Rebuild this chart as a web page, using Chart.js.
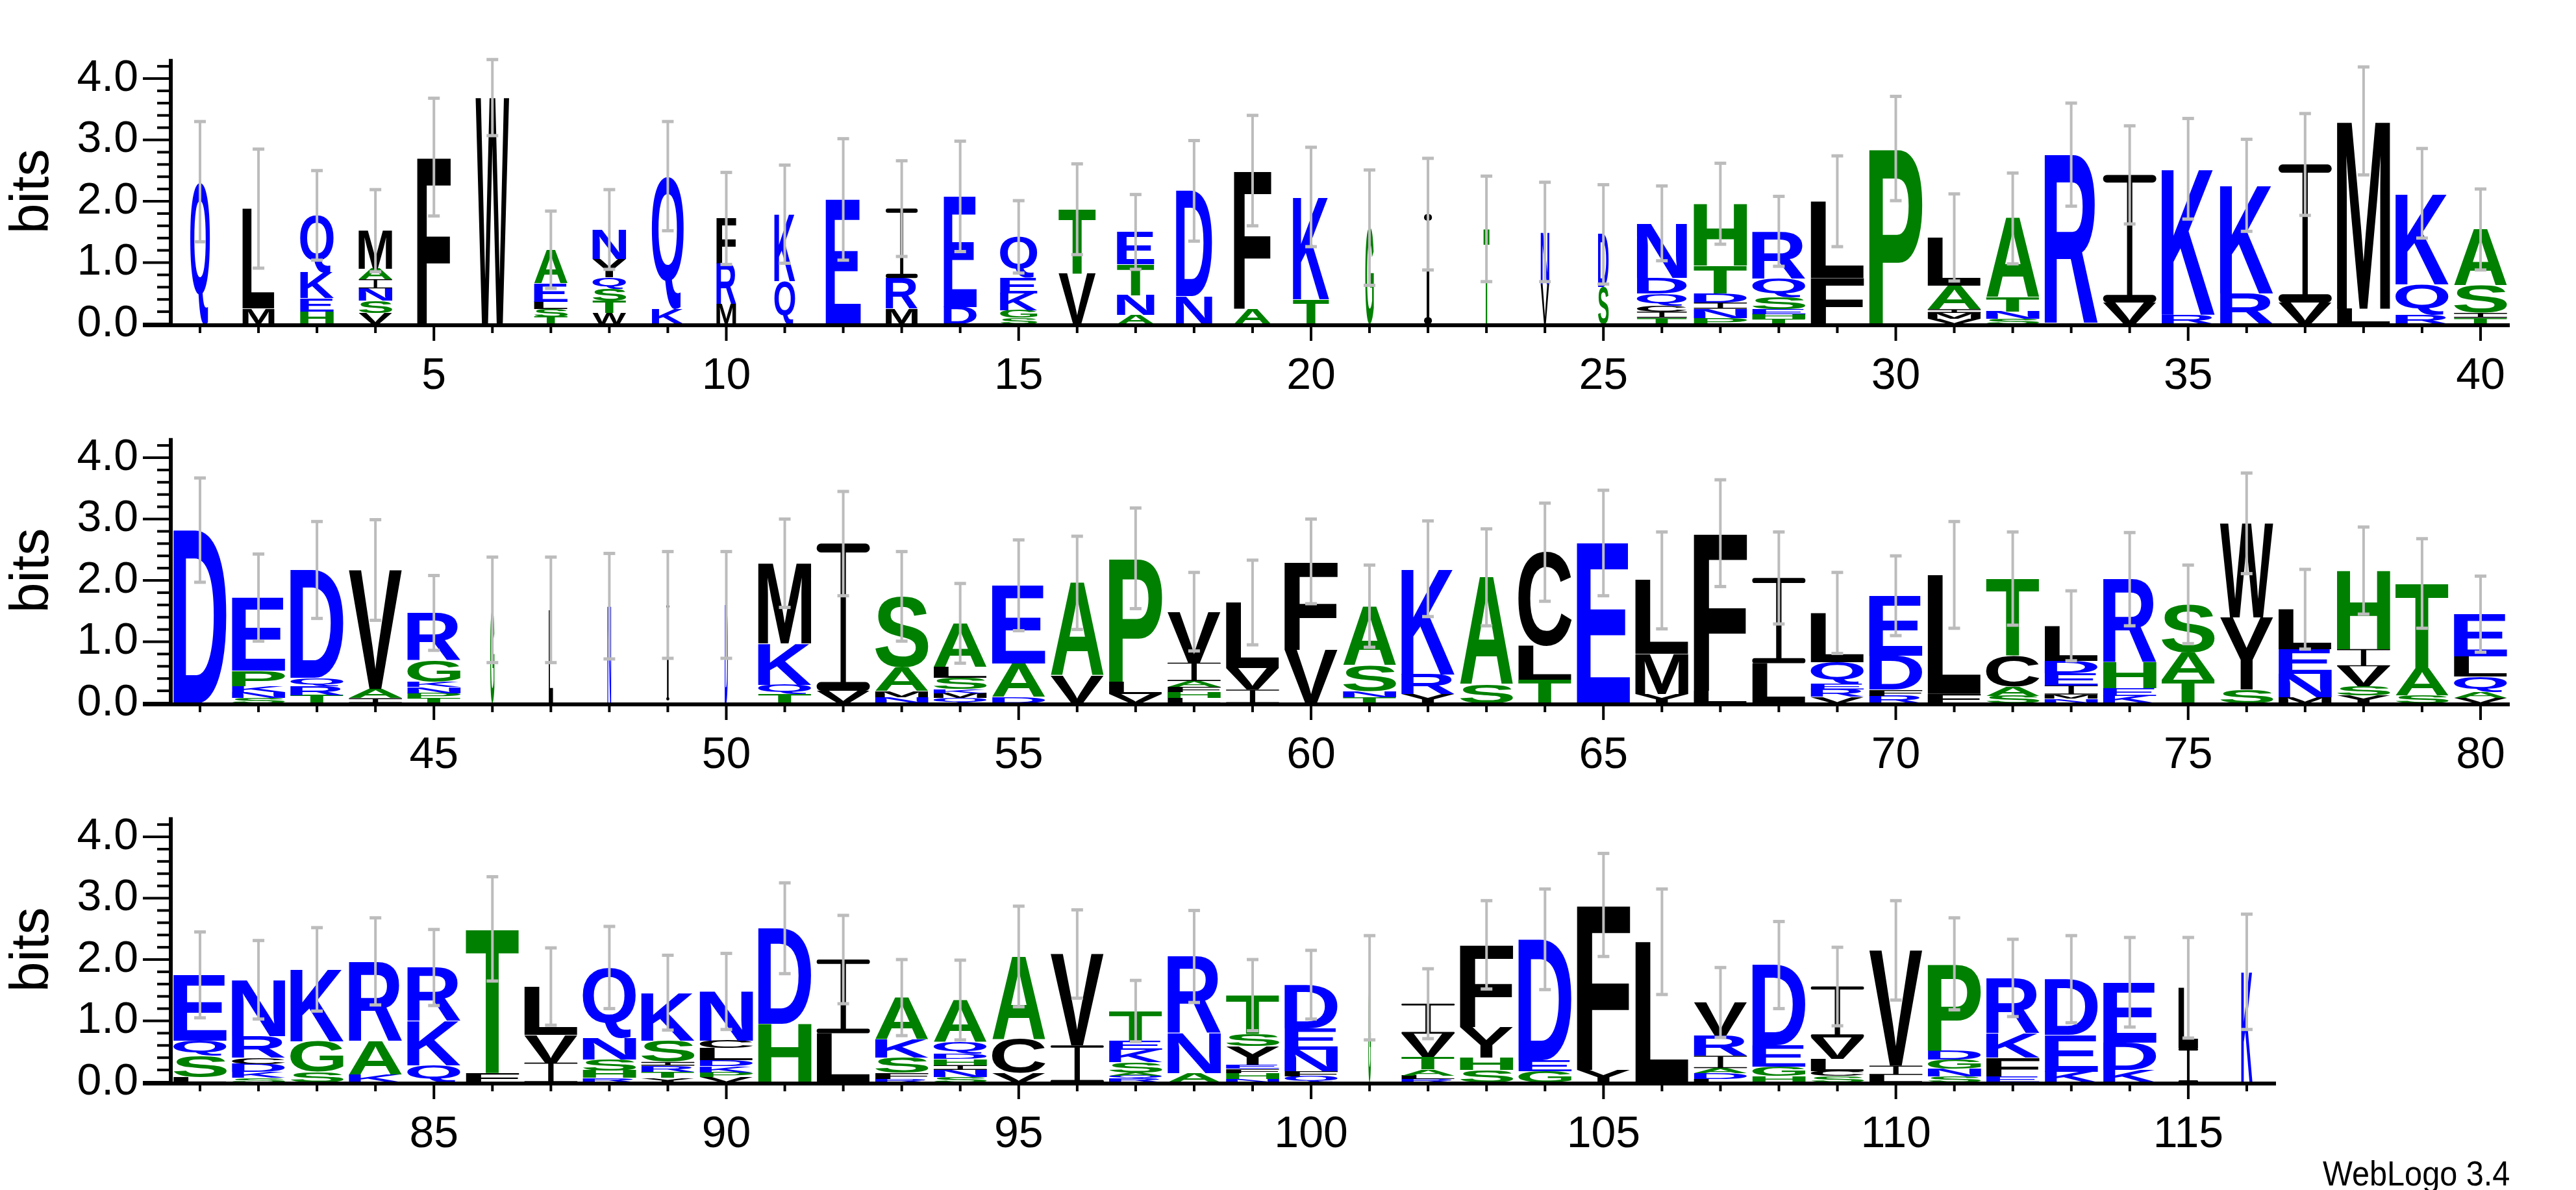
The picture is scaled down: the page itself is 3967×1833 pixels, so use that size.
<!DOCTYPE html>
<html><head><meta charset="utf-8">
<script src="https://cdn.jsdelivr.net/npm/chart.js@4"></script>
<style>
html,body{margin:0;padding:0;background:#fff;width:3967px;height:1833px;overflow:hidden;position:relative}
.box{position:absolute;left:0;width:3967px;height:667px}
#wl{position:absolute;right:102px;top:1776px;font:54px "Liberation Sans Narrow","Liberation Sans",sans-serif;transform:scaleX(0.9);transform-origin:right}
</style></head><body>
<div class="box" style="top:0"><canvas id="c0"></canvas></div>
<div class="box" style="top:584px"><canvas id="c1"></canvas></div>
<div class="box" style="top:1168px"><canvas id="c2"></canvas></div>
<div id="wl">WebLogo 3.4</div>
<script>
const positions1 = Array.from({length:40},(_,i)=>String(i+1));
const positions2 = Array.from({length:40},(_,i)=>String(i+41));
const positions3 = Array.from({length:36},(_,i)=>String(i+81));
const yTicks = [0,1,2,3,4];

const stacks1 = ["Q2.32","M.25 L1.63","H.2 E.22 K.42 Q.93","V.18 S.2 N.2 I.15 A.17 M.62","F2.72","W3.69",
"T.12 S.12 L.12 E.3 A.55","W.18 T.2 S.2 Q.18 Y.3 N.48","K.25 Q2.16","M.32 R.67 F.73","Q.7 K1.09","E2.03",
"M.25 R.5 I1.13","D.28 E1.8","S.1 G.12 K.28 E.25 Q.67","V.82 T1.05","A.15 N.32 T.5 E.53","N.45 D1.72",
"A.25 F2.25","T.4 K1.67","G1.57","I1.79","T1.55","V.65 N.85","S.6 D.86","T.1 I.1 C.1 Q.2 D.25 N.89",
"P.1 N.15 I.1 D.15 T.45 H1.01","T.08 H.08 E.08 S.2 Q.3 R.77","F.75 L1.25","P2.86","V.08 M.1 I.06 A.38 L.79",
"S.08 N.12 T.23 A1.29","R2.76","V.35 I2.08","R.15 K2.38","R.5 K1.76","V.35 I2.25","L.25 M3.06","R.15 Q.5 K1.48","T.1 I.08 S.45 A.91"];
const errors1 = [.98,.97,.73,.67,.96,.62,.63,.65,.89,.75,.8,.99,.78,.9,.59,.74,.61,.82,.9,.81,.94,.91,.86,.81,.81,.61,.66,.57,.74,.85,.71,.74,.84,.8,.82,.75,.83,.88,.73,.66];
const widths1 = [.37,.6,.63,.63,.63,.63,.63,.63,.6,.37,.39,.66,.6,.62,.7,.7,.7,.68,.7,.68,.16,.15,.11,.16,.2,.94,1,1,1,1,1,1,1,1,1,1,1,1,1,1];

const stacks2 = ["D2.82","S.08 N.1 K.1 P.25 E1.19","T.13 R.15 Q.13 D1.76","I.08 A.15 V1.94","T.08 P.08 N.1 K.08 G.35 R.78",
"G1.52","L1.52","N1.58","I1.6","D1.6","T.15 Q.15 K.67 M1.31","V.2 I2.4","N.1 M.1 A.38 S1.16","Q.08 M.08 K.07 S.18 L.18 A.71",
"D.1 A.55 E1.27","V.45 A1.51","V.15 L.2 P2.01","L.08 H.1 F.08 A.1 I.3 V.83","I.22 V.35 L1.07","V.87 F1.44","T.1 N.1 S.42 A.96",
"Y.15 R.32 K1.72","S.3 A1.75","T.38 L.55 C1.53","E2.61","Y.15 M.65 L1.2","L.2 F2.57","L.65 I1.39","V.1 R.12 E.1 Q.35 L.8",
"R.12 F.1 D.55 E.98","F.15 L1.94","S.12 A.15 C.5 T1.26","N.07 M.07 I.15 E.2 D.2 L.57","K.12 E.12 H.42 R1.36","T.38 A.45 S.78",
"S.22 Y1.18 W1.53","M.1 N.38 E.4 L.65","Y.12 S.15 V.33 I.28 H1.28","S.12 A.45 T1.38","V.08 A.1 Q.25 L.33 E.69"];
const errors2 = [.85,.71,.79,.82,.61,.86,.86,.86,.87,.87,.72,.85,.73,.65,.74,.76,.82,.64,.69,.69,.67,.78,.79,.8,.86,.79,.87,.75,.66,.65,.87,.76,.57,.76,.64,.82,.65,.71,.73,.62];
const widths2 = [1,1,1,1,1,.08,.08,.07,.06,.06,1,1,1,1,1,1,1,1,1,1,1,1,1,1,1,1,1,1,1,1,1,1,1,1,1,1,1,1,1,1];

const stacks3 = ["L.08 S.35 Q.25 E1.07","S.07 K.1 D.13 C.1 R.35 N.92","S.17 G.5 K1.17","K.12 A.55 R1.3","Q.28 K.72 R.87",
"F.15 T2.35","I.32 V.45 L.79","R.07 H.12 S.18 N.35 Q1.15","Y.07 T.1 R.1 I.06 S.35 K.78","V.08 P.08 K.1 D.1 L.2 C.12 N.8",
"H.95 D1.56","L.8 I1.2","R.05 F.1 S.25 K.3 A.68","S.08 N.12 I.08 H.1 D.08 Q.2 A.68","V.15 C.55 A1.35","I.6 V1.49",
"R.06 Q.05 A.05 S.17 K.2 E.15 T.48","A.15 N.65 R1.25","N.05 H.1 F.07 E.07 Y.3 S.2 T.63","Q.1 F.08 N.35 E.35 D.71","G1.54",
"R.05 L.06 A.1 T.2 V.38 I.49","S.2 H.2 Y.5 F1.34","G.18 E.18 D1.97","Y.2 F2.69","L2.29","L.05 D.1 A.08 I.2 R.33 V.54",
"H.1 G.15 E.35 D1.31","S.1 C.08 L.2 V.35 I.83","L.12 I.15 V1.88","S.1 N.12 G.15 D.15 P1.41","E.1 F.3 K.4 R.9","K.17 E.6 D.91",
"K.2 D.45 E.98","I.55 L.99","K1.8"];
const errors3 = [.7,.64,.68,.71,.62,.85,.63,.67,.61,.62,.74,.72,.62,.65,.82,.72,.5,.75,.58,.56,.85,.57,.72,.82,.84,.86,.57,.71,.64,.81,.75,.63,.71,.73,.82,.94];
const widths3 = [1,1,1,1,1,1,1,1,1,1,1,1,1,1,1,1,1,1,1,1,.05,1,1,1,1,1,1,1,1,1,1,1,1,1,.37,.21];

const BLUE='#0000ff', GREEN='#008000', BLACK='#000000';
const colorOf = c => 'QNDEKR'.includes(c)?BLUE:('APSTHG'.includes(c)?GREEN:BLACK);
const TICKFONT = {family:'"Liberation Sans Narrow","Liberation Sans",sans-serif', size:68};

function parse(s){return s.split(' ').map(t=>({ch:t[0], h:parseFloat(t.slice(1))}));}

function rrect(ctx,x,y,w,h,r){
  r=Math.min(r,w/2,h/2);
  ctx.beginPath();ctx.moveTo(x+r,y);ctx.lineTo(x+w-r,y);ctx.arc(x+w-r,y+r,r,-Math.PI/2,Math.PI/2);
  ctx.lineTo(x+r,y+h);ctx.arc(x+r,y+r,r,Math.PI/2,Math.PI*1.5);ctx.closePath();ctx.fill();
}
const glyphCache={};
function drawLetter(ctx,ch,x0,y0,w,h,color){
  if(h<=0.5||w<=0) return;
  ctx.save();
  ctx.fillStyle=color;
  if(ch==='I'){
    const t=Math.max(1.5,h*0.06), sw=Math.max(w*0.1,Math.min(w*0.5,4));
    rrect(ctx,x0,y0,w,t,t/2);
    rrect(ctx,x0,y0+h-t,w,t,t/2);
    ctx.fillRect(x0+w/2-sw/2,y0+t*0.5,sw,h-t);
    ctx.restore(); return;
  }
  ctx.font='bold 200px "Liberation Sans", Arial, sans-serif';
  let m=glyphCache[ch]; if(!m){m=ctx.measureText(ch);glyphCache[ch]=m;}
  const gw=m.actualBoundingBoxLeft+m.actualBoundingBoxRight, gh=m.actualBoundingBoxAscent+m.actualBoundingBoxDescent;
  const sx=w/gw, sy=h/gh;
  ctx.translate(x0+m.actualBoundingBoxLeft*sx, y0+m.actualBoundingBoxAscent*sy);
  ctx.scale(sx,sy);
  ctx.textBaseline='alphabetic'; ctx.textAlign='left';
  ctx.fillText(ch,0,0);
  ctx.restore();
}

function makeChart(id, labels, stacks, errors, widths, padRight){
  const parsed=stacks.map(parse);
  const nLayers=Math.max(...parsed.map(p=>p.length));
  const datasets=[];
  for(let k=0;k<nLayers;k++){
    datasets.push({data:parsed.map(p=>p[k]?p[k].h:0), letters:parsed.map(p=>p[k]?p[k].ch:''),
      backgroundColor:'rgba(0,0,0,0)', borderWidth:0, barPercentage:1, categoryPercentage:0.91});
  }
  const logoPlugin={id:'logo', afterDatasetsDraw(chart){
    const ctx=chart.ctx, ys=chart.scales.y, xs=chart.scales.x, ca=chart.chartArea;
    chart.data.datasets.forEach((ds,k)=>{
      chart.getDatasetMeta(k).data.forEach((el,i)=>{
        const ch=ds.letters[i]; if(!ch) return;
        const p=el.getProps(['x','y','base','width'],true);
        const w=p.width*widths[i];
        drawLetter(ctx,ch,p.x-w/2,p.y,w,p.base-p.y,colorOf(ch));
      });
    });
    ctx.save(); ctx.strokeStyle='#bcbcbc';
    parsed.forEach((p,i)=>{
      const tot=p.reduce((a,b)=>a+b.h,0);
      const x=xs.getPixelForValue(i);
      const y1=ys.getPixelForValue(tot+errors[i]), y2=ys.getPixelForValue(Math.max(0,tot-errors[i]));
      ctx.lineWidth=4;
      ctx.beginPath();ctx.moveTo(x,y1);ctx.lineTo(x,y2);ctx.stroke();
      ctx.lineWidth=5;
      [y1,y2].forEach(y=>{ctx.beginPath();ctx.moveTo(x-9,y);ctx.lineTo(x+9,y);ctx.stroke();});
    });
    ctx.restore();
    ctx.save(); ctx.strokeStyle='#000'; ctx.lineWidth=6;
    const y0=ys.getPixelForValue(0)+2;
    ctx.beginPath();ctx.moveTo(ca.left,ys.getPixelForValue(4.32));ctx.lineTo(ca.left,y0+2);ctx.stroke();
    ctx.beginPath();ctx.moveTo(ca.left-43,y0);ctx.lineTo(ca.right,y0);ctx.stroke();
    ctx.lineWidth=4;
    for(let v=0;v<=4.21;v+=0.2){
      const y=ys.getPixelForValue(v), major=Math.abs(v-Math.round(v))<1e-6;
      ctx.beginPath();ctx.moveTo(ca.left-(major?43:21),y);ctx.lineTo(ca.left,y);ctx.stroke();
    }
    labels.forEach((l,i)=>{
      const x=xs.getPixelForValue(i), major=(+l)%5===0;
      ctx.beginPath();ctx.moveTo(x,y0);ctx.lineTo(x,y0+(major?24:12));ctx.stroke();
    });
    ctx.restore();
  }};
  return new Chart(document.getElementById(id),{
    type:'bar',
    data:{labels, datasets},
    plugins:[logoPlugin],
    options:{responsive:false, animation:false, devicePixelRatio:1,
      layout:{padding:{top:49,right:padRight,left:0,bottom:0}},
      plugins:{legend:{display:false},tooltip:{enabled:false}},
      scales:{
        x:{stacked:true, grid:{display:false,drawTicks:false}, border:{display:false},
           ticks:{autoSkip:false,maxRotation:0,padding:40,color:'#000',font:TICKFONT,
             callback:function(v,i){const l=labels[i];return (+l)%5===0?l:'';}},
           afterFit:s=>{s.height=168;}},
        y:{stacked:true,min:0,max:4.32,afterBuildTicks:s=>{s.ticks=yTicks.map(v=>({value:v}));},
           grid:{display:false,drawTicks:false},border:{display:false},
           title:{display:true,text:'bits',color:'#000',font:{family:'"Liberation Sans",sans-serif',size:84},padding:{top:0,bottom:14}},
           ticks:{padding:50,color:'#000',font:TICKFONT,callback:v=>v.toFixed(1)},
           afterFit:s=>{s.width=263;}}
      }}
  });
}
['c0','c1','c2'].forEach(id=>{const c=document.getElementById(id);c.width=3967;c.height=667;c.style.width='3967px';c.style.height='667px';});
makeChart('c0',positions1,stacks1,errors1,widths1,102);
makeChart('c1',positions2,stacks2,errors2,widths2,102);
makeChart('c2',positions3,stacks3,errors3,widths3,462);
</script></body></html>
